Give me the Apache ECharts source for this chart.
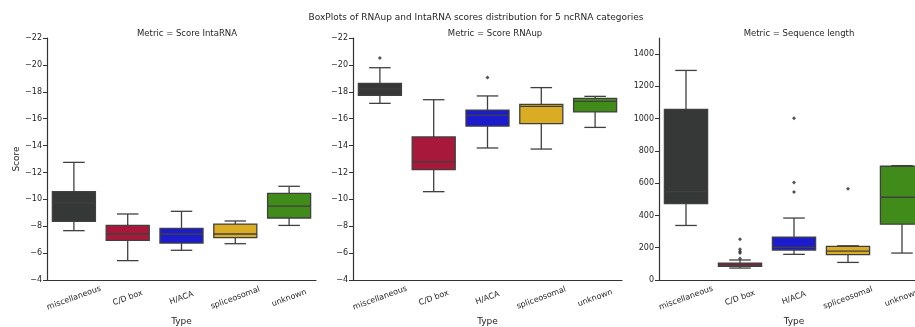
<!DOCTYPE html>
<html>
<head>
<meta charset="utf-8">
<script src="https://cdn.jsdelivr.net/npm/echarts@6/dist/echarts.min.js"></script>
<style>
html, body { margin: 0; padding: 0; background: #fff; }
#chart { width: 915px; height: 327px; }
</style>
</head>
<body>
<div id="chart"></div>
<script>
const TYPES = ['miscellaneous', 'C/D box', 'H/ACA', 'spliceosomal', 'unknown']
const COLORS = ['#363737', '#a8183a', '#1c1ccc', '#d9ac24', '#418b1b']

// each row: [low whisker, Q1, median, Q3, high whisker]
const INTARNA_BOX = [
  [-7.67, -8.36, -9.73, -10.57, -12.75],
  [-5.44, -6.95, -7.42, -8.06, -8.91],
  [-6.21, -6.75, -7.42, -7.84, -9.11],
  [-6.70, -7.15, -7.42, -8.16, -8.39],
  [-8.06, -8.61, -9.50, -10.45, -10.97]
]
const RNAUP_BOX = [
  [-17.14, -17.74, -18.21, -18.63, -19.79],
  [-10.57, -12.21, -12.78, -14.64, -17.41],
  [-13.82, -15.45, -16.25, -16.64, -17.69],
  [-13.74, -15.63, -16.92, -17.07, -18.31],
  [-15.35, -16.50, -17.29, -17.51, -17.66]
]
const LENGTH_BOX = [
  [338, 474, 548, 1058, 1299],
  [74, 85, 95, 105, 124],
  [159, 186, 202, 266, 384],
  [109, 157, 179, 208, 212],
  [167, 346, 513, 705, 709]
]
// outliers: [category index, value]
const RNAUP_OUT = [[0, -20.51], [2, -19.07]]
const LENGTH_OUT = [[1, 252], [1, 190], [1, 177], [1, 167], [1, 134], [2, 1002], [2, 604], [2, 546], [3, 565]]

const LENGTH_TICKS = [0, 200, 400, 600, 800, 1000, 1200, 1400]

const LINE = '#404040'
const TEXT = '#262626'
const FONT = 'DejaVu Sans'

function renderBox (params, api) {
  const i = api.value(0)
  const band = api.size([1, 0])[0]
  const half = band * 0.4
  const cap = half / 2
  const lo = api.coord([i, api.value(1)])
  const q1 = api.coord([i, api.value(2)])
  const med = api.coord([i, api.value(3)])
  const q3 = api.coord([i, api.value(4)])
  const hi = api.coord([i, api.value(5)])
  const x = lo[0]
  const st = { stroke: LINE, lineWidth: 1.3 }
  return {
    type: 'group',
    children: [
      { type: 'line', shape: { x1: x, y1: lo[1], x2: x, y2: q1[1] }, style: st },
      { type: 'line', shape: { x1: x, y1: q3[1], x2: x, y2: hi[1] }, style: st },
      { type: 'line', shape: { x1: x - cap, y1: lo[1], x2: x + cap, y2: lo[1] }, style: st },
      { type: 'line', shape: { x1: x - cap, y1: hi[1], x2: x + cap, y2: hi[1] }, style: st },
      {
        type: 'rect',
        shape: { x: x - half, y: Math.min(q1[1], q3[1]), width: half * 2, height: Math.abs(q1[1] - q3[1]) },
        style: { fill: COLORS[i], stroke: LINE, lineWidth: 1.3 }
      },
      { type: 'line', shape: { x1: x - half, y1: med[1], x2: x + half, y2: med[1] }, style: st }
    ]
  }
}

function boxData (rows) {
  return rows.map((r, i) => [i].concat(r))
}

const minus = v => String(v).replace('-', '\u2212')

function xAxisFor (idx) {
  return {
    type: 'category',
    gridIndex: idx,
    data: TYPES,
    boundaryGap: true,
    name: 'Type',
    nameLocation: 'middle',
    nameGap: 36,
    nameTextStyle: { color: TEXT, fontFamily: FONT, fontSize: 9 },
    axisLine: { lineStyle: { color: '#333', width: 1.2 } },
    axisTick: { alignWithLabel: true, length: 4, lineStyle: { color: '#333' } },
    axisLabel: {
      rotate: 20, align: 'center', verticalAlign: 'middle', margin: 18,
      color: TEXT, fontFamily: FONT, fontSize: 8
    },
    splitLine: { show: false }
  }
}

function scoreAxis (idx, withName) {
  return {
    type: 'value',
    gridIndex: idx,
    inverse: true,
    min: -22,
    max: -4,
    interval: 2,
    name: withName ? 'Score' : '',
    nameLocation: 'middle',
    nameGap: 24,
    nameTextStyle: { color: TEXT, fontFamily: FONT, fontSize: 9 },
    axisLine: { show: true, lineStyle: { color: '#333', width: 1.2 } },
    axisTick: { show: true, length: 4, lineStyle: { color: '#333' } },
    axisLabel: { formatter: minus, color: TEXT, fontFamily: FONT, fontSize: 8, margin: 5 },
    splitLine: { show: false }
  }
}

const chart = echarts.init(document.getElementById('chart'), null, { renderer: 'canvas' })

chart.setOption({
  animation: false,
  backgroundColor: '#fff',
  title: [
    { text: 'BoxPlots of RNAup and IntaRNA scores distribution for 5 ncRNA categories', left: 471, top: 8, textAlign: 'center', textStyle: { color: TEXT, fontFamily: FONT, fontSize: 9, fontWeight: 'normal' } },
    { text: 'Metric = Score IntaRNA', left: 182, top: 24, textAlign: 'center', textStyle: { color: TEXT, fontFamily: FONT, fontSize: 8.5, fontWeight: 'normal' } },
    { text: 'Metric = Score RNAup', left: 490, top: 24, textAlign: 'center', textStyle: { color: TEXT, fontFamily: FONT, fontSize: 8.5, fontWeight: 'normal' } },
    { text: 'Metric = Sequence length', left: 794, top: 24, textAlign: 'center', textStyle: { color: TEXT, fontFamily: FONT, fontSize: 8.5, fontWeight: 'normal' } }
  ],
  grid: [
    { left: 47, top: 38, width: 269, height: 242, outerBoundsMode: 'none' },
    { left: 353, top: 38, width: 269, height: 242, outerBoundsMode: 'none' },
    { left: 659, top: 38, width: 270, height: 242, outerBoundsMode: 'none' }
  ],
  xAxis: [xAxisFor(0), xAxisFor(1), xAxisFor(2)],
  yAxis: [
    scoreAxis(0, true),
    scoreAxis(1, false),
    {
      type: 'value',
      gridIndex: 2,
      min: 0,
      max: 1500,
      axisLine: { show: true, lineStyle: { color: '#333', width: 1.2 } },
      axisTick: { show: true, length: 4, customValues: LENGTH_TICKS, lineStyle: { color: '#333' } },
      axisLabel: { customValues: LENGTH_TICKS, formatter: v => String(v), color: TEXT, fontFamily: FONT, fontSize: 8, margin: 5 },
      splitLine: { show: false }
    }
  ],
  series: [
    { type: 'custom', xAxisIndex: 0, yAxisIndex: 0, renderItem: renderBox, encode: { x: 0, y: [1, 2, 3, 4, 5] }, data: boxData(INTARNA_BOX) },
    { type: 'custom', xAxisIndex: 1, yAxisIndex: 1, renderItem: renderBox, encode: { x: 0, y: [1, 2, 3, 4, 5] }, data: boxData(RNAUP_BOX) },
    { type: 'custom', xAxisIndex: 2, yAxisIndex: 2, renderItem: renderBox, encode: { x: 0, y: [1, 2, 3, 4, 5] }, data: boxData(LENGTH_BOX) },
    { type: 'scatter', xAxisIndex: 1, yAxisIndex: 1, symbol: 'diamond', symbolSize: 4, itemStyle: { color: '#2a2a2a' }, data: RNAUP_OUT },
    { type: 'scatter', xAxisIndex: 2, yAxisIndex: 2, symbol: 'diamond', symbolSize: 4, itemStyle: { color: '#2a2a2a' }, data: LENGTH_OUT }
  ]
})
</script>
</body>
</html>
